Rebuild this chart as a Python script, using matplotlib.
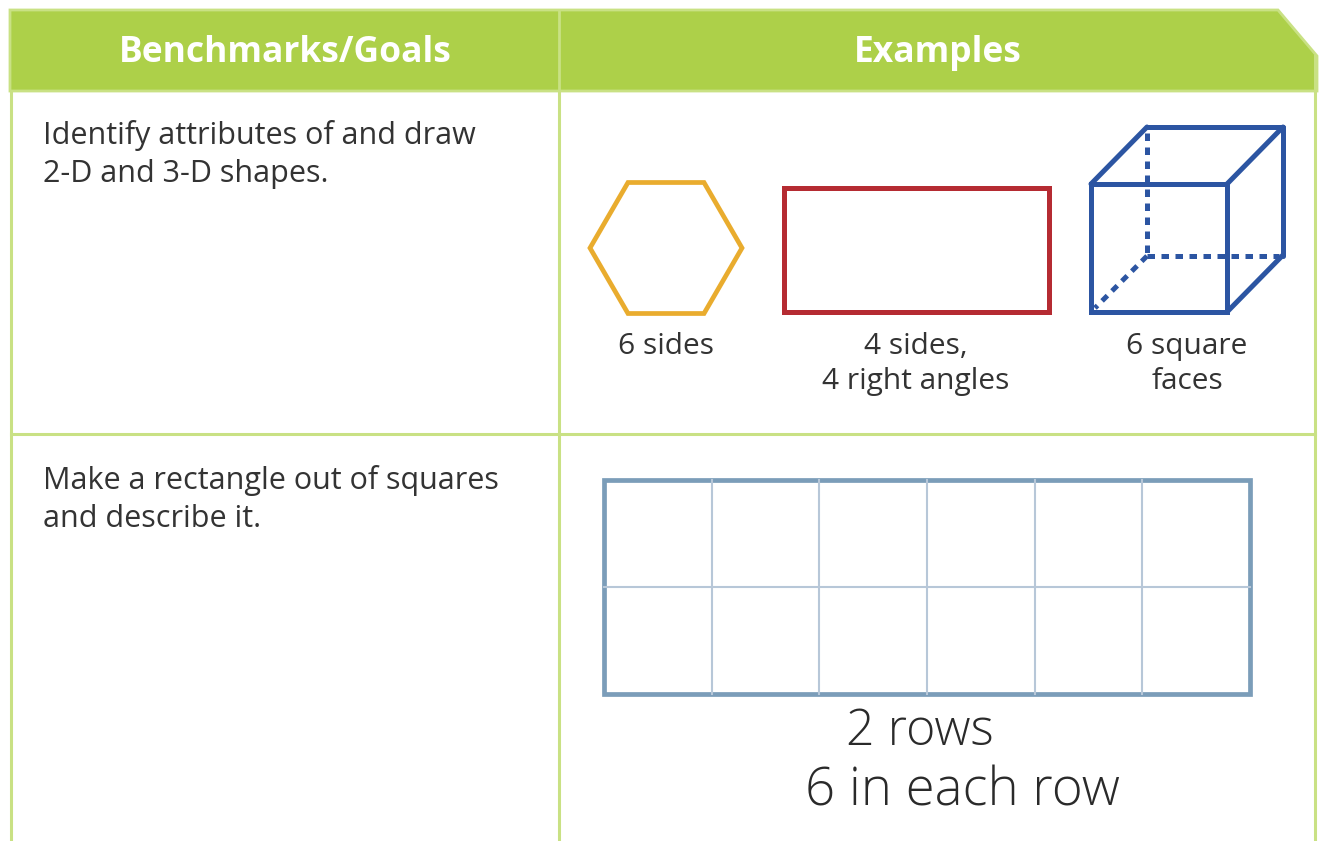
#!/usr/bin/env python3
"""Benchmarks / goals table with drawn shape examples."""

import numpy as np
import matplotlib
matplotlib.use("Agg")
import matplotlib.pyplot as plt
from matplotlib.patches import Polygon, Rectangle

# table text
header_labels = ["Benchmarks/Goals", "Examples"]
goal_row1 = ["Identify attributes of and draw", "2-D and 3-D shapes."]
goal_row2 = ["Make a rectangle out of squares", "and describe it."]
shape_captions = [["6 sides"], ["4 sides,", "4 right angles"], ["6 square", "faces"]]
handwritten = ["2 rows", "6 in each row"]

# shape facts
hexagon_sides = 6
grid_rows = 2
grid_cols = 6

GREEN = "#ADD049"
GREEN_LINE = "#C9E184"
TEXT = "#333333"
ORANGE = "#E9AC2E"
RED = "#B52B32"
BLUE = "#2C55A2"
GRID_OUT = "#7B9DB9"
GRID_IN = "#B7C7D8"

plt.rcParams["font.family"] = ["Open Sans", "DejaVu Sans"]

fig = plt.figure(figsize=(13.19, 8.41), dpi=100)
ax = fig.add_axes([0, 0, 1, 1])
ax.set_xlim(0, 1319)
ax.set_ylim(841, 0)
ax.axis("off")

# header band with cut corner
ax.add_patch(Polygon([(10, 10), (1278, 10), (1317, 56), (1317, 91), (10, 91)],
                     closed=True, facecolor=GREEN, edgecolor=GREEN_LINE, linewidth=2, zorder=1))
ax.plot([559, 559], [10, 91], color=GREEN_LINE, linewidth=2, zorder=2)
for x, label in zip([285, 938], header_labels):
    ax.text(x, 53, label, ha="center", va="center", color="white",
            fontsize=25.5, fontweight="bold", zorder=3)

# table borders
ax.plot([11, 11], [91, 841], color=GREEN_LINE, linewidth=2.2)
ax.plot([559, 559], [91, 841], color=GREEN_LINE, linewidth=2.2)
ax.plot([1315, 1315], [56, 841], color=GREEN_LINE, linewidth=2.2)
ax.plot([11, 1315], [434, 434], color=GREEN_LINE, linewidth=2.2)

# goals text
for i, line in enumerate(goal_row1):
    ax.text(43, 135 + 39 * i, line, ha="left", va="center", color=TEXT, fontsize=22)
for i, line in enumerate(goal_row2):
    ax.text(43, 480 + 39 * i, line, ha="left", va="center", color=TEXT, fontsize=22)

# hexagon
angles = np.deg2rad(np.arange(hexagon_sides) * 360 / hexagon_sides)
hx = 666 + 76 * np.cos(angles)
hy = 248 + 65.5 * np.sin(angles) / np.sin(np.deg2rad(60))
ax.add_patch(Polygon(np.column_stack([hx, hy]), closed=True, fill=False,
                     edgecolor=ORANGE, linewidth=3.4, joinstyle="miter"))

# rectangle
ax.add_patch(Rectangle((784, 188), 265, 124, fill=False, edgecolor=RED,
                       linewidth=3.6, joinstyle="miter"))

# cube
fx0, fy0, size = 1091, 184, 136
dx, dy = 56, -57
lw = 3.6
front = Rectangle((fx0, fy0), size, 128, fill=False, edgecolor=BLUE, linewidth=lw, joinstyle="miter")
ax.add_patch(front)
bx0, by0 = fx0 + dx, fy0 + dy
ax.plot([bx0, bx0 + size], [by0, by0], color=BLUE, linewidth=lw, solid_capstyle="round")
ax.plot([bx0 + size, bx0 + size], [by0, by0 + 129], color=BLUE, linewidth=lw, solid_capstyle="round")
for cx, cy in [(fx0, fy0), (fx0 + size, fy0), (fx0 + size, fy0 + 128)]:
    ax.plot([cx, cx + dx], [cy, cy + dy], color=BLUE, linewidth=lw, solid_capstyle="round")
dash = (0, (1.5, 1.3))
ax.plot([bx0, bx0], [by0 + 6, by0 + 129], color=BLUE, linewidth=lw, linestyle=dash, dash_capstyle="butt")
ax.plot([bx0, bx0 + size - 4], [by0 + 129, by0 + 129], color=BLUE, linewidth=lw, linestyle=dash, dash_capstyle="butt")
ax.plot([bx0, fx0 + 4], [by0 + 129, fy0 + 124], color=BLUE, linewidth=lw, linestyle=dash, dash_capstyle="butt")

# captions under shapes
for x, lines in zip([666, 916, 1187], shape_captions):
    for i, line in enumerate(lines):
        ax.text(x, 346 + 35 * i, line, ha="center", va="center", color=TEXT, fontsize=21.5)

# grid of squares
gx0, gy0, gx1, gy1 = 604, 480, 1250, 694
for c in range(1, grid_cols):
    x = gx0 + (gx1 - gx0) * c / grid_cols
    ax.plot([x, x], [gy0, gy1], color=GRID_IN, linewidth=1.5)
for r in range(1, grid_rows):
    y = gy0 + (gy1 - gy0) * r / grid_rows
    ax.plot([gx0, gx1], [y, y], color=GRID_IN, linewidth=1.5)
ax.add_patch(Rectangle((gx0, gy0), gx1 - gx0, gy1 - gy0, fill=False,
                       edgecolor=GRID_OUT, linewidth=3.4, joinstyle="miter"))

# handwritten description
ax.text(920, 732, handwritten[0], ha="center", va="center", color="#2a2a2a",
        fontsize=36, fontweight="light")
ax.text(962, 792, handwritten[1], ha="center", va="center", color="#2a2a2a",
        fontsize=38, fontweight="light")

fig.savefig("out.png", dpi=100, facecolor="white")
plt.close(fig)
